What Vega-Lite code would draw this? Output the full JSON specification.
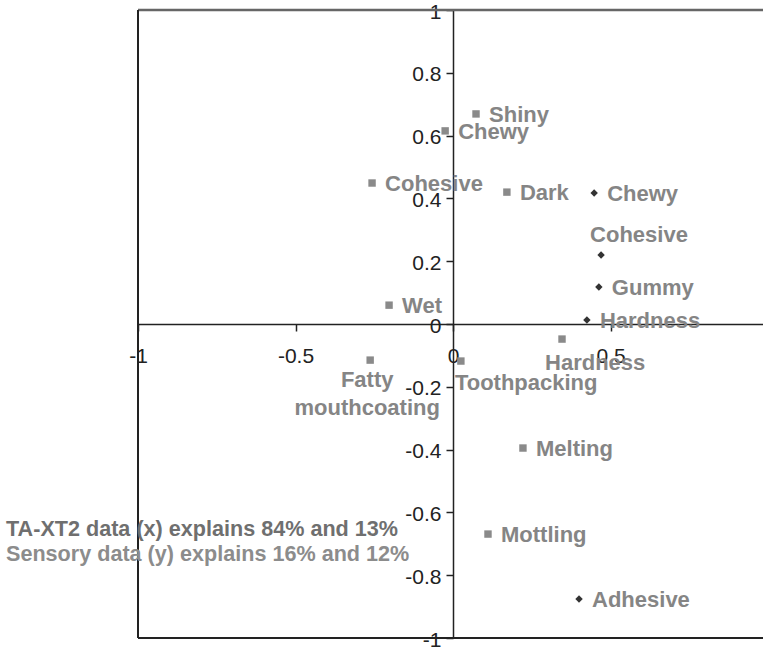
{
  "$schema": "https://vega.github.io/schema/vega-lite/v6.json",
  "width": 625,
  "height": 628,
  "autosize": {"type": "none"},
  "padding": {"left": 138, "top": 10, "right": 0, "bottom": 12},
  "config": {
    "view": {"stroke": null},
    "font": "Liberation Sans",
    "axis": {"grid": false, "title": null}
  },
  "datasets": {
    "pts": [
      {"id": "Shiny", "label": "Shiny", "type": "Sensory", "x": 0.073, "y": 0.669},
      {"id": "Chewy_S", "label": "Chewy", "type": "Sensory", "x": -0.025, "y": 0.615},
      {"id": "Cohesive_S", "label": "Cohesive", "type": "Sensory", "x": -0.257, "y": 0.449},
      {"id": "Dark", "label": "Dark", "type": "Sensory", "x": 0.171, "y": 0.42},
      {"id": "Wet", "label": "Wet", "type": "Sensory", "x": -0.203, "y": 0.06},
      {"id": "Fatty", "label": "Fatty\nmouthcoating", "type": "Sensory", "x": -0.263, "y": -0.115},
      {"id": "Toothpacking", "label": "Toothpacking", "type": "Sensory", "x": 0.025, "y": -0.118},
      {"id": "Hardness_S", "label": "Hardness", "type": "Sensory", "x": 0.346, "y": -0.048},
      {"id": "Melting", "label": "Melting", "type": "Sensory", "x": 0.222, "y": -0.395},
      {"id": "Mottling", "label": "Mottling", "type": "Sensory", "x": 0.111, "y": -0.669},
      {"id": "Chewy_I", "label": "Chewy", "type": "Instrumental", "x": 0.448, "y": 0.417},
      {"id": "Cohesive_I", "label": "Cohesive", "type": "Instrumental", "x": 0.47, "y": 0.22},
      {"id": "Gummy", "label": "Gummy", "type": "Instrumental", "x": 0.463, "y": 0.118},
      {"id": "Hardness_I", "label": "Hardness", "type": "Instrumental", "x": 0.425, "y": 0.013},
      {"id": "Adhesive", "label": "Adhesive", "type": "Instrumental", "x": 0.4, "y": -0.876}
    ],
    "notes": [
      {"id": "xnote", "text": "TA-XT2 data (x) explains 84% and 13%", "x": -1.419, "y": -0.656},
      {"id": "ynote", "text": "Sensory data (y) explains 16% and 12%", "x": -1.419, "y": -0.736}
    ]
  },
  "layer": [
    {
      "data": {"values": [{}]},
      "mark": {"type": "rule", "color": "#666666", "strokeWidth": 2.5},
      "encoding": {
        "x": {"datum": -1, "type": "quantitative", "scale": {"domain": [-1, 0.984], "nice": false, "zero": false}},
        "x2": {"datum": 1},
        "y": {"datum": 1, "type": "quantitative", "scale": {"domain": [-1, 1], "nice": false, "zero": false}}
      }
    },
    {
      "data": {"values": [{}]},
      "mark": {"type": "rule", "color": "#222222", "strokeWidth": 2},
      "encoding": {
        "x": {"datum": -1, "type": "quantitative"},
        "y": {"datum": -1, "type": "quantitative"},
        "y2": {"datum": 1}
      }
    },
    {
      "data": {"values": [{}]},
      "mark": {"type": "rule", "color": "#222222", "strokeWidth": 2},
      "encoding": {
        "x": {"datum": -1, "type": "quantitative"},
        "x2": {"datum": 1},
        "y": {"datum": -1, "type": "quantitative"}
      }
    },
    {
      "data": {"name": "pts"},
      "mark": {"type": "point", "filled": true, "opacity": 1, "size": 55},
      "encoding": {
        "x": {
          "field": "x", "type": "quantitative",
          "axis": {
            "title": null, "offset": -314, "values": [-1, -0.5, 0, 0.5],
            "labelExpr": "toString(datum.value)",
            "domainColor": "#222222", "domainWidth": 1.5,
            "tickColor": "#222222", "tickWidth": 1.5, "tickSize": 7,
            "labelFont": "Liberation Sans", "labelFontSize": 21, "labelColor": "#222222",
            "labelBaseline": "middle", "labelPadding": 25, "labelFlush": false, "labelOverlap": false
          }
        },
        "y": {
          "field": "y", "type": "quantitative",
          "axis": {
            "title": null, "offset": -315, "values": [-1, -0.8, -0.6, -0.4, -0.2, 0, 0.2, 0.4, 0.6, 0.8, 1],
            "labelExpr": "toString(datum.value)",
            "domainColor": "#222222", "domainWidth": 1.5,
            "tickColor": "#222222", "tickWidth": 1.5, "tickSize": 7,
            "labelFont": "Liberation Sans", "labelFontSize": 21, "labelColor": "#222222",
            "labelBaseline": "middle", "labelPadding": 5, "labelOffset": 2, "labelFlush": false, "labelOverlap": false
          }
        },
        "shape": {"field": "type", "type": "nominal", "scale": {"domain": ["Sensory", "Instrumental"], "range": ["square", "diamond"]}, "legend": null},
        "color": {"field": "type", "type": "nominal", "scale": {"domain": ["Sensory", "Instrumental"], "range": ["#8a8a8a", "#333333"]}, "legend": null}
      }
    },
    {
      "data": {"name": "pts"},
      "transform": [{"filter": "indexof(['Cohesive_I','Hardness_S','Toothpacking','Fatty'], datum.id) < 0"}],
      "mark": {"type": "text", "align": "left", "baseline": "middle", "dx": 13, "dy": 1, "font": "Liberation Sans", "fontSize": 22, "fontWeight": "bold", "color": "#858585"},
      "encoding": {
        "x": {"field": "x", "type": "quantitative"},
        "y": {"field": "y", "type": "quantitative"},
        "text": {"field": "label"}
      }
    },
    {
      "data": {"name": "pts"},
      "transform": [{"filter": "datum.id == 'Cohesive_I'"}],
      "mark": {"type": "text", "align": "left", "baseline": "middle", "dx": -11, "dy": -20, "font": "Liberation Sans", "fontSize": 22, "fontWeight": "bold", "color": "#858585"},
      "encoding": {
        "x": {"field": "x", "type": "quantitative"},
        "y": {"field": "y", "type": "quantitative"},
        "text": {"field": "label"}
      }
    },
    {
      "data": {"name": "pts"},
      "transform": [{"filter": "datum.id == 'Hardness_S'"}],
      "mark": {"type": "text", "align": "left", "baseline": "middle", "dx": -17, "dy": 24, "font": "Liberation Sans", "fontSize": 22, "fontWeight": "bold", "color": "#858585"},
      "encoding": {
        "x": {"field": "x", "type": "quantitative"},
        "y": {"field": "y", "type": "quantitative"},
        "text": {"field": "label"}
      }
    },
    {
      "data": {"name": "pts"},
      "transform": [{"filter": "datum.id == 'Toothpacking'"}],
      "mark": {"type": "text", "align": "left", "baseline": "middle", "dx": -6, "dy": 22, "font": "Liberation Sans", "fontSize": 22, "fontWeight": "bold", "color": "#858585"},
      "encoding": {
        "x": {"field": "x", "type": "quantitative"},
        "y": {"field": "y", "type": "quantitative"},
        "text": {"field": "label"}
      }
    },
    {
      "data": {"name": "pts"},
      "transform": [{"filter": "datum.id == 'Fatty'"}],
      "mark": {"type": "text", "align": "center", "baseline": "middle", "dx": -3, "dy": 20, "lineBreak": "\n", "lineHeight": 28, "font": "Liberation Sans", "fontSize": 22, "fontWeight": "bold", "color": "#858585"},
      "encoding": {
        "x": {"field": "x", "type": "quantitative"},
        "y": {"field": "y", "type": "quantitative"},
        "text": {"field": "label"}
      }
    },
    {
      "data": {"name": "notes"},
      "transform": [{"filter": "datum.id == 'xnote'"}],
      "mark": {"type": "text", "align": "left", "baseline": "middle", "font": "Liberation Sans", "fontSize": 21.6, "fontWeight": "bold", "color": "#6f6f6f"},
      "encoding": {
        "x": {"field": "x", "type": "quantitative"},
        "y": {"field": "y", "type": "quantitative"},
        "text": {"field": "text"}
      }
    },
    {
      "data": {"name": "notes"},
      "transform": [{"filter": "datum.id == 'ynote'"}],
      "mark": {"type": "text", "align": "left", "baseline": "middle", "font": "Liberation Sans", "fontSize": 21.6, "fontWeight": "bold", "color": "#8c8c8c"},
      "encoding": {
        "x": {"field": "x", "type": "quantitative"},
        "y": {"field": "y", "type": "quantitative"},
        "text": {"field": "text"}
      }
    }
  ]
}
